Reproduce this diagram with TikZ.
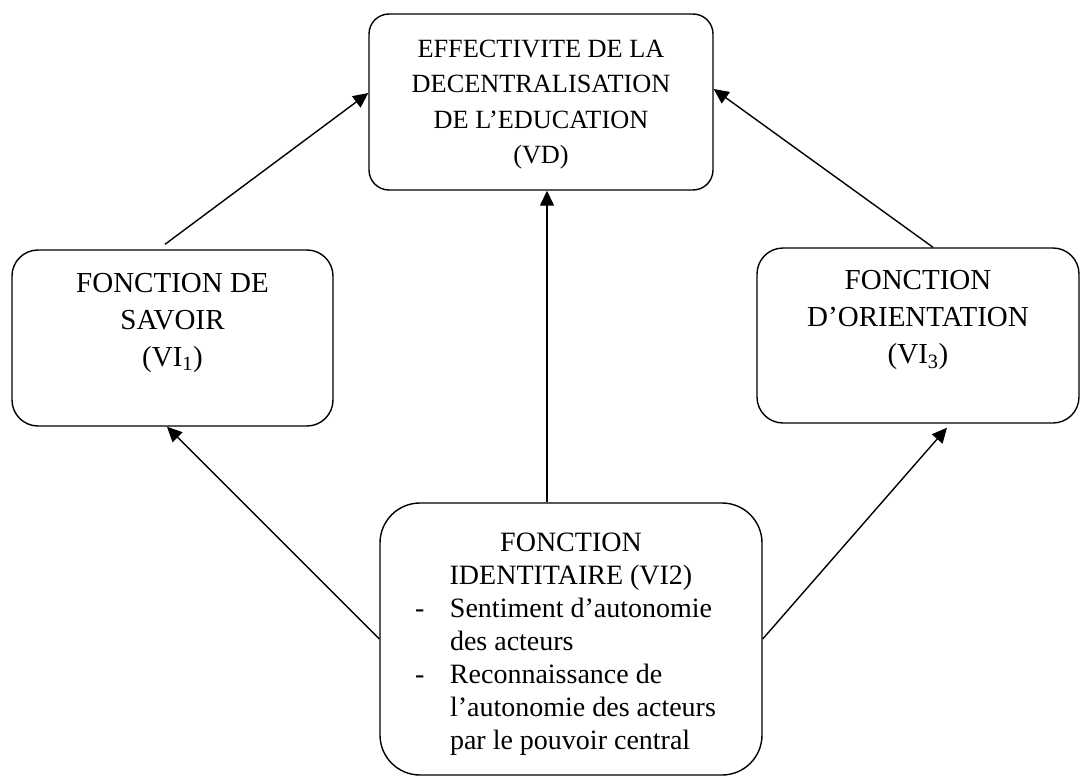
\documentclass[tikz,border=0pt]{standalone}
\usepackage{fontspec}
\setmainfont{Liberation Serif}
\usetikzlibrary{arrows.meta}

\newcommand{\tiret}{\makebox[35pt][l]{-}}
\newcommand{\retrait}{\hspace*{35pt}}
\newcommand{\centre}[1]{\makebox[312pt]{#1}}

\begin{document}
\begin{tikzpicture}[
  x=1pt, y=-1pt,
  var/.style={draw, line width=1.4pt, rounded corners=#1, align=center},
  small_txt/.style={font=\fontsize{26.3}{35.5}\selectfont},
  big_txt/.style={font=\fontsize{29}{37}\selectfont},
  mid_txt/.style={font=\fontsize{28}{33}\selectfont},
  link/.style={-{Triangle[length=15pt, width=14pt]}, line width=1.4pt},
]
\useasboundingbox (0,0) rectangle (1082,776);
% dependent variable
\node[var=20pt, small_txt, minimum width=344pt, minimum height=176pt] (vd) at (541,102)
  {\rule{0pt}{23pt}EFFECTIVITE DE LA\\DECENTRALISATION\\DE L’EDUCATION\\(VD)};
% independent variables
\node[var=26pt, big_txt, minimum width=321pt, minimum height=176pt] (vi1) at (172.5,338)
  {FONCTION DE\\SAVOIR\\(VI\textsubscript{1})\\ \mbox{}};
\node[var=26pt, big_txt, minimum width=322pt, minimum height=175pt] (vi3) at (918,335.5)
  {FONCTION\\D’ORIENTATION\\(VI\textsubscript{3})\\ \mbox{}};
\node[var=40pt, mid_txt, minimum width=382pt, minimum height=272pt, align=left] (vi2) at (571,639)
  {\centre{\rule{0pt}{28pt}FONCTION}\\
   \centre{IDENTITAIRE (VI2)}\\
   \tiret Sentiment d’autonomie\\
   \retrait des acteurs\\
   \tiret Reconnaissance de\\
   \retrait l’autonomie des acteurs\\
   \retrait par le pouvoir central};
% links
\draw[link] ([shift={(-7.5,-5)}]vi1.north) -- ([shift={(0,-9)}]vd.west);
\draw[link] ([shift={(15,0)}]vi3.north) -- ([shift={(0,-13)}]vd.east);
\draw[link] ([shift={(-24,0)}]vi2.north) -- ([shift={(6,0)}]vd.south);
\draw[link] (vi2.west) -- ([shift={(-5.5,0)}]vi1.south);
\draw[link] (vi2.east) -- ([shift={(29,4)}]vi3.south);
\end{tikzpicture}
\end{document}
